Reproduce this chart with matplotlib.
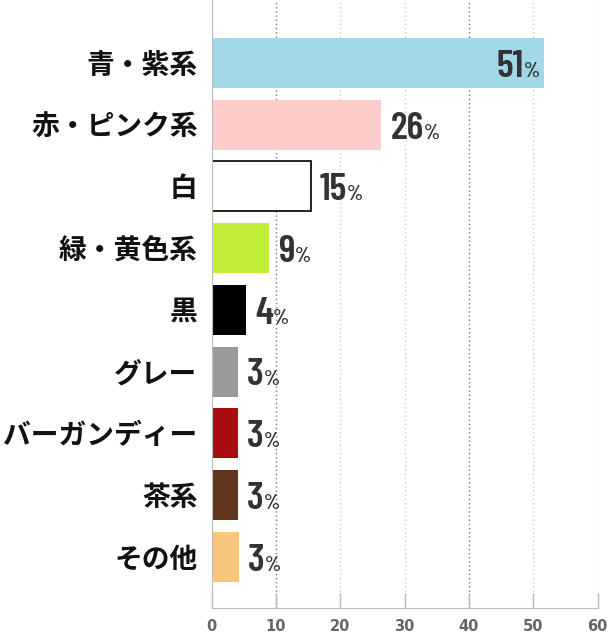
import matplotlib
matplotlib.use('Agg')
import matplotlib.pyplot as plt
from matplotlib import font_manager

# data
categories = ['青・紫系', '赤・ピンク系', '白', '緑・黄色系', '黒', 'グレー', 'バーガンディー', '茶系', 'その他']
values = [51.7, 26.4, 15.4, 8.95, 5.35, 4.1, 4.1, 4.1, 4.3]
labels = ['51', '26', '15', '9', '4', '3', '3', '3', '3']
colors = ['#a2d8e7', '#fecccb', '#ffffff', '#c2ef3a', '#000000', '#999999', '#a90c0e', '#62341b', '#f9c67d']
edges = ['none', 'none', '#111111', 'none', 'none', 'none', 'none', 'none', 'none']
xticks = [0, 10, 20, 30, 40, 50, 60]

names = {f.name for f in font_manager.fontManager.ttflist}
num_font = 'DejaVu Sans'
for cand in ['Barlow Condensed', 'Roboto Condensed', 'Oswald', 'Saira Condensed',
             'Liberation Sans Narrow']:
    if cand in names:
        num_font = cand
        break

fig = plt.figure(figsize=(6.08, 6.38), dpi=100)
ax = fig.add_axes([211.5 / 608, 30 / 638, 386 / 608, 608 / 638])

y = list(range(len(categories)))
ax.barh(y, values, height=0.81, color=colors, edgecolor=edges, linewidth=1.3)

ax.set_xlim(0, 60)
ax.set_ylim(len(categories) - 1 + 0.83, -1.02)
fig.canvas.draw()
r = fig.canvas.get_renderer()
inv = ax.transData.inverted()

txt = dict(fontweight='semibold', family=num_font, color='#333333', va='baseline')
for i, (v, lab) in enumerate(zip(values, labels)):
    base = i + 0.225
    if i == 0:
        p = ax.text(v - 0.6, base, '%', ha='right', fontsize=15, **txt)
        bb = p.get_window_extent(r)
        xx = inv.transform((bb.x0, 0))[0]
        ax.text(xx - 0.1, base, lab, ha='right', fontsize=28, **txt)
    else:
        t = ax.annotate(lab, (v, base), xytext=(6.5, 0), textcoords='offset points',
                        ha='left', fontsize=28, **txt)
        bb = t.get_window_extent(r)
        xx = inv.transform((bb.x1, 0))[0]
        ax.text(xx + 0.05, base, '%', ha='left', fontsize=15, **txt)

ax.set_xticks(xticks)
ax.set_xticklabels([str(x) for x in xticks], fontsize=10.5, fontweight='bold',
                   color='#666666', family='DejaVu Sans')
ax.tick_params(axis='x', direction='in', length=11, width=1, color='#bbbbbb', pad=8)
ax.set_yticks(y)
ax.set_yticklabels(categories, fontsize=20, fontweight='bold',
                   family=['Noto Sans CJK JP', 'DejaVu Sans'], color='#111111')
ax.tick_params(axis='y', length=0, pad=10)

for x in xticks[1:]:
    dark = x in (10, 40)
    ax.axvline(x, color='#777777' if dark else '#cccccc', linestyle=(0, (1, 2)),
               linewidth=1, zorder=0)

for s in ['top', 'right']:
    ax.spines[s].set_visible(False)
ax.spines['left'].set_color('#bbbbbb')
ax.spines['bottom'].set_color('#bbbbbb')

fig.savefig('out.png', dpi=100)
